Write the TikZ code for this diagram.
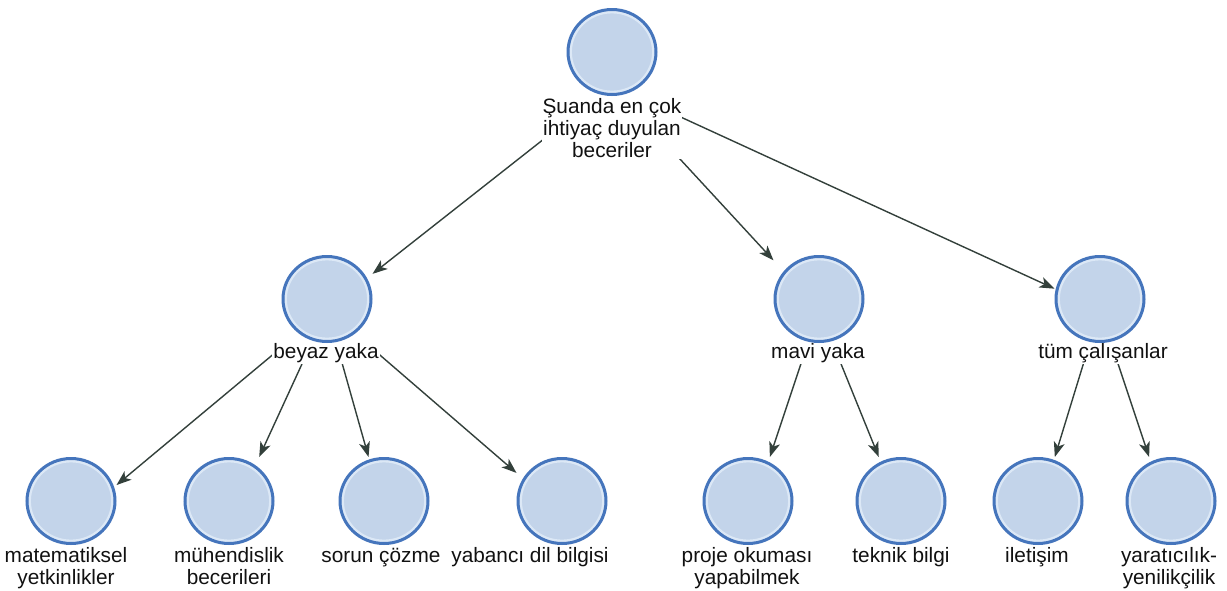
\documentclass[tikz,border=0pt]{standalone}
\usepackage{fontspec}
\setmainfont{Liberation Sans}
\usetikzlibrary{shapes.geometric,arrows.meta}
\definecolor{bubbleline}{HTML}{4575BC}
\definecolor{bubblefill}{HTML}{C3D4EA}
\definecolor{bubblering}{HTML}{DCE8F6}
\definecolor{conncolor}{HTML}{33403B}
\definecolor{txt}{HTML}{111111}
\pgfdeclarelayer{edgelayer}
\pgfdeclarelayer{labellayer}
\pgfsetlayers{edgelayer,labellayer,main}
\begin{document}
\begin{tikzpicture}[x=1pt,y=-1pt,
  bubble/.style={ellipse, draw=bubbleline, fill=bubblefill, line width=3pt,
    minimum width=88pt, minimum height=85pt, inner sep=0pt,
    path picture={\draw[bubblering,line width=2.4pt] (path picture bounding box.center) ellipse [x radius=41.3pt, y radius=39.8pt];}},
  hub/.style={rectangle, draw=none, inner sep=0pt, outer sep=0pt, minimum width=91pt},
  lbl/.style={font=\fontsize{20.8}{22}\selectfont, text=txt, fill=white, inner sep=1pt, align=center},
  conn/.style={draw=conncolor, line width=1.4pt, -{Stealth[length=15pt,width=11pt,inset=4pt]}}]

\useasboundingbox (0,0) rectangle (1227,590);

% connector hubs (circle + label extent)
\node[hub, minimum height=155pt] (top) at (612,85.5) {};
\node[hub, minimum height=109pt] (beyaz) at (327,309.5) {};
\node[hub, minimum height=109pt] (mavi) at (819,309.5) {};
\node[hub, minimum height=109pt] (tum) at (1100,309.5) {};
\node[hub, minimum height=132pt] (mat) at (71,523) {};
\node[hub, minimum height=132pt] (muh) at (229,523) {};
\node[hub, minimum height=110pt] (sorun) at (384,512) {};
\node[hub, minimum height=110pt] (yab) at (562,512) {};
\node[hub, minimum height=132pt] (proje) at (748,523) {};
\node[hub, minimum height=110pt] (tek) at (901,512) {};
\node[hub, minimum height=110pt] (ilet) at (1038,512) {};
\node[hub, minimum height=132pt] (yar) at (1171,523) {};

% circles
\node[bubble] (topC) at (612,52) {};
\node[bubble] (beyazC) at (327,299) {};
\node[bubble] (maviC) at (819,299) {};
\node[bubble] (tumC) at (1100,299) {};
\node[bubble] (matC) at (71,501) {};
\node[bubble] (muhC) at (229,501) {};
\node[bubble] (sorunC) at (384,501) {};
\node[bubble] (yabC) at (562,501) {};
\node[bubble] (projeC) at (748,501) {};
\node[bubble] (tekC) at (901,501) {};
\node[bubble] (iletC) at (1038,501) {};
\node[bubble] (yarC) at (1171,501) {};

\begin{pgfonlayer}{edgelayer}
\fill[white] (0,0) rectangle (1227,590);
\draw[conn] (top) -- (beyaz);
\draw[conn] (top) -- (mavi);
\draw[conn] (top) -- (tum);
\draw[conn] (beyaz) -- (mat);
\draw[conn] (beyaz) -- (muh);
\draw[conn] (beyaz) -- (sorun);
\draw[conn] (beyaz) -- (yab);
\draw[conn] (mavi) -- (proje);
\draw[conn] (mavi) -- (tek);
\draw[conn] (tum) -- (ilet);
\draw[conn] (tum) -- (yar);
\end{pgfonlayer}

\begin{pgfonlayer}{labellayer}
\node[lbl, anchor=north] (topL) at (612,97.1) {Şuanda en çok\\ihtiyaç duyulan\\beceriler};
\node[lbl, anchor=base] (beyazL) at (326,358.5) {beyaz yaka};
\node[lbl, anchor=base] (maviL) at (818,358.5) {mavi yaka};
\node[lbl, anchor=base] (tumL) at (1103,358.5) {tüm çalışanlar};
\node[lbl, anchor=north] (matL) at (66,546.1) {matematiksel\\yetkinlikler};
\node[lbl, anchor=north] (muhL) at (229,546.1) {mühendislik\\becerileri};
\node[lbl, anchor=base] (sorunL) at (381,562) {sorun çözme};
\node[lbl, anchor=base] (yabL) at (530,562) {yabancı dil bilgisi};
\node[lbl, anchor=north] (projeL) at (747,546.1) {proje okuması\\yapabilmek};
\node[lbl, anchor=base] (tekL) at (901,562) {teknik bilgi};
\node[lbl, anchor=base] (iletL) at (1037,562) {iletişim};
\node[lbl, anchor=north] (yarL) at (1169,546.1) {yaratıcılık-\\yenilikçilik};
\end{pgfonlayer}
\end{tikzpicture}
\end{document}
